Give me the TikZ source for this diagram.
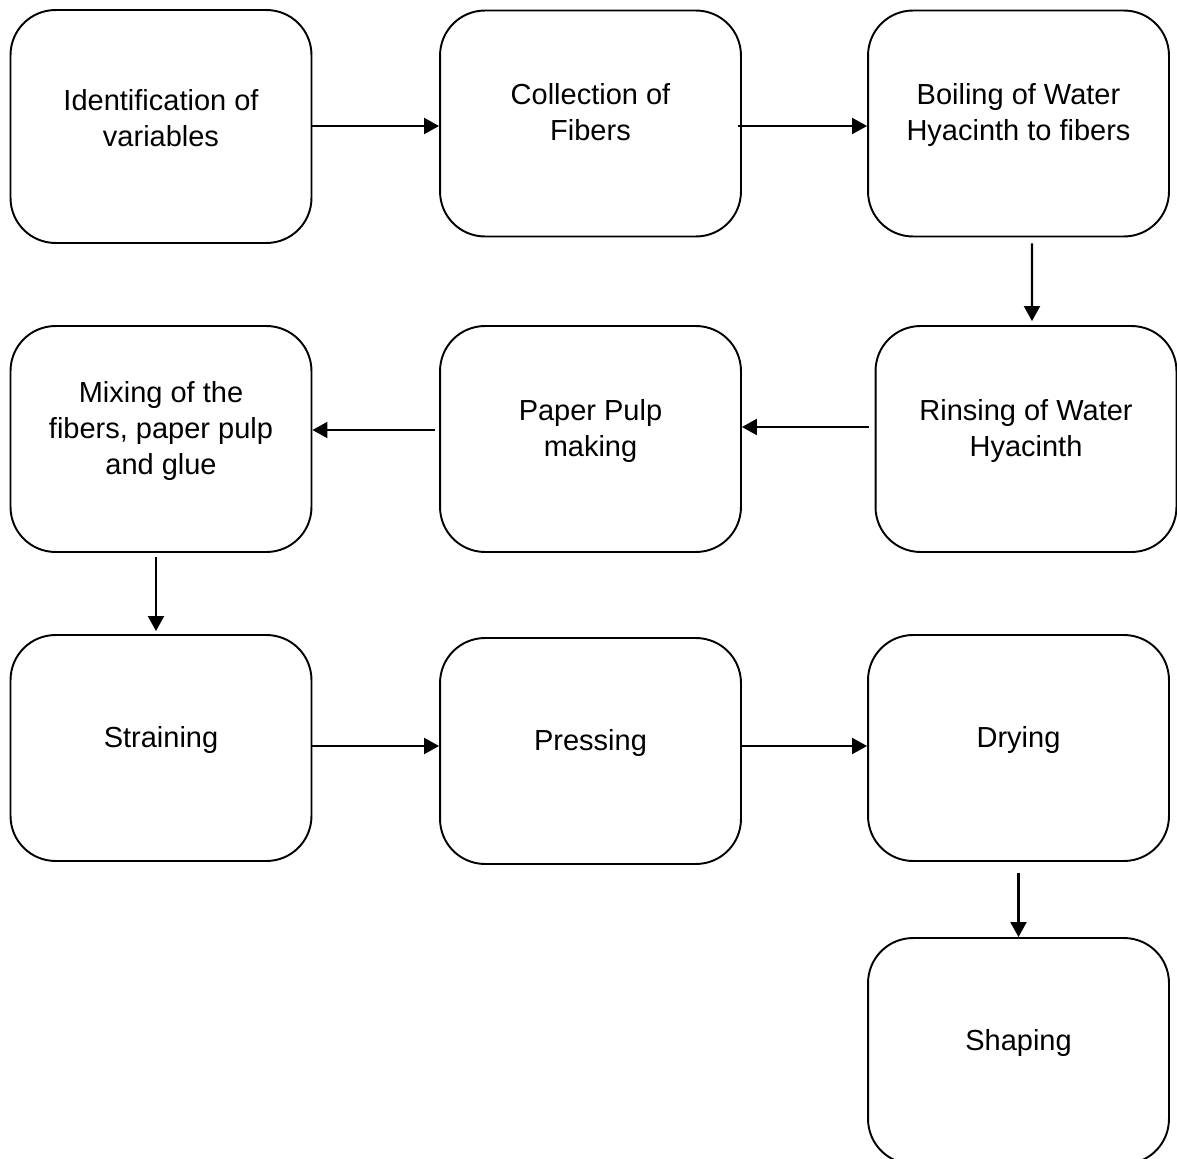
\documentclass[tikz,border=0pt]{standalone}
\usepackage{fontspec}
\setmainfont{Liberation Sans}
\usepackage{tikz}
\usetikzlibrary{arrows.meta}

\begin{document}
\begin{tikzpicture}[x=0.02cm,y=-0.02cm]
\useasboundingbox (0,0) rectangle (1177,1159);
\begin{scope}[every node/.style={rectangle,rounded corners=0.9cm,draw,line width=1.1pt,
              minimum width=6.02cm,minimum height=4.52cm,align=center,text depth=0.45cm,
              font=\fontsize{16.5}{20.5}\selectfont}]
    \node[minimum height=4.66cm,text depth=0.33cm] (A) at (161,126.5) {Identification of\\variables};
    \node (B) at (590.5,123.5) {Collection of\\Fibers};
    \node (C) at (1018.5,123.5) {Boiling of Water\\Hyacinth to fibers};
    \node (F) at (1026,439) {Rinsing of Water\\Hyacinth};
    \node (E) at (590.5,439) {Paper Pulp\\making};
    \node (D) at (161,439) {Mixing of the\\fibers, paper pulp\\and glue};
    \node (G) at (161,748) {Straining};
    \node (H) at (590.5,751) {Pressing};
    \node (I) at (1018.5,748) {Drying};
    \node (J) at (1018.5,1051) {Shaping};
    \end{scope}

\begin{scope}[>={Triangle[length=0.3cm,width=0.32cm]},
              every edge/.style={draw=black,line width=1.2pt}]
    \path [->] (A.east |- 0,126) edge (B.west |- 0,126);
    \path [->] ([xshift=-0.08cm]B.east |- 0,126) edge (C.west |- 0,126);
    \path [->] ([xshift=0.27cm,yshift=-0.12cm]C.south) edge ([xshift=0.12cm,yshift=0.08cm]F.north);
    \path [->] ([xshift=-0.12cm]F.west |- 0,427) edge (E.east |- 0,427);
    \path [->] ([xshift=-0.08cm]E.west |- 0,430) edge (D.east |- 0,430);
    \path [->] ([xshift=-0.1cm,yshift=-0.08cm]D.south) edge ([xshift=-0.1cm,yshift=0.06cm]G.north);
    \path [->] (G.east |- 0,746) edge (H.west |- 0,746);
    \path [->] (H.east |- 0,746) edge (I.west |- 0,746);
    \path [->] ([yshift=-0.22cm]I.south) edge (J.north);
    \end{scope}

\end{tikzpicture}
\end{document}
